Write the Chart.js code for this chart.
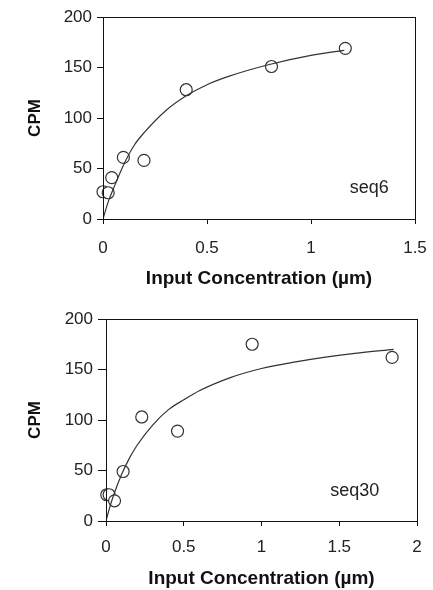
<!DOCTYPE html>
<html>
<head>
<meta charset="utf-8">
<script src="https://cdn.jsdelivr.net/npm/chart.js@4/dist/chart.umd.min.js"></script>
<style>
  body { margin: 0; background: #fff; }
  .panel { position: absolute; left: 0; width: 433px; height: 295px; }
</style>
</head>
<body>
<div class="panel" style="top:0"><canvas id="seq6" width="433" height="295"></canvas></div>
<div class="panel" style="top:295px"><canvas id="seq30" width="433" height="295"></canvas></div>
<script>
const seq6Conc = [0.0, 0.025, 0.042, 0.098, 0.197, 0.4, 0.81, 1.165];
const seq6Cpm = [27, 26, 41, 61, 58, 128, 151, 169];
const seq6FitConc = [0, 0.025, 0.05, 0.1, 0.15, 0.2, 0.3, 0.4, 0.5, 0.6, 0.8, 1.0, 1.16];
const seq6FitCpm = [0, 17, 30, 54, 73, 86, 107, 122, 133, 141, 153, 162, 167];

const seq30Conc = [0.005, 0.02, 0.055, 0.11, 0.23, 0.46, 0.94, 1.84];
const seq30Cpm = [26, 26, 20, 49, 103, 89, 175, 162];
const seq30FitConc = [0, 0.025, 0.05, 0.1, 0.15, 0.2, 0.3, 0.4, 0.5, 0.6, 0.8, 1.0, 1.2, 1.4, 1.6, 1.85];
const seq30FitCpm = [0, 14, 26, 46, 62, 75, 95, 110, 120, 129, 142, 151, 157, 162, 166, 170];

const xTitle = "Input Concentration (\u00b5m)";
const yTitle = "CPM";
const FONT = "'Liberation Sans', Arial, Helvetica, sans-serif";

const boxPlugin = {
  id: "box",
  afterDraw(chart, args, opts) {
    const { ctx, chartArea, scales } = chart;
    ctx.save();
    ctx.strokeStyle = "#111";
    ctx.lineWidth = 1;
    ctx.strokeRect(chartArea.left + 0.5, chartArea.top + 0.5, chartArea.width, chartArea.height);
    ctx.font = "18px " + FONT;
    ctx.fillStyle = "#222";
    ctx.textAlign = "center";
    ctx.textBaseline = "middle";
    ctx.fillText(opts.label, scales.x.getPixelForValue(opts.labelX), scales.y.getPixelForValue(opts.labelY));
    ctx.restore();
  },
};

function toPoints(xs, ys) {
  return xs.map((x, i) => ({ x: x, y: ys[i] }));
}

function makeChart(id, g) {
  return new Chart(document.getElementById(id), {
    type: "scatter",
    data: {
      datasets: [
        {
          type: "line",
          data: toPoints(g.fitX, g.fitY),
          borderColor: "#333",
          borderWidth: 1.2,
          pointRadius: 0,
          fill: false,
          cubicInterpolationMode: "monotone",
        },
        {
          data: toPoints(g.x, g.y),
          pointRadius: 6,
          pointBorderWidth: 1.2,
          pointBorderColor: "#333",
          pointBackgroundColor: "#fff",
          clip: false,
        },
      ],
    },
    options: {
      responsive: false,
      animation: false,
      devicePixelRatio: 1,
      layout: { padding: { left: 0, top: g.top, right: 433 - g.right, bottom: 0 } },
      plugins: {
        legend: { display: false },
        tooltip: { enabled: false },
        box: { label: g.label, labelX: g.labelX, labelY: g.labelY },
      },
      scales: {
        x: {
          type: "linear",
          min: 0,
          max: g.xMax,
          afterFit: (s) => {
            s.height = g.xHeight;
            s.paddingLeft = 0;
            s.paddingRight = 0;
          },
          ticks: {
            stepSize: 0.5,
            color: "#222",
            padding: g.xPad,
            font: { family: FONT, size: 17 },
            callback: (v) => String(v),
          },
          grid: { drawOnChartArea: false, tickLength: 5, color: "#111" },
          border: { color: "#111" },
          title: {
            display: true,
            text: xTitle,
            color: "#111",
            padding: { top: 0, bottom: g.xTitlePad },
            font: { family: FONT, size: 19, weight: "bold" },
          },
        },
        y: {
          min: 0,
          max: 200,
          afterFit: (s) => { s.width = g.left; },
          ticks: { stepSize: 50, color: "#222", padding: 5, font: { family: FONT, size: 17 } },
          grid: { drawOnChartArea: false, tickLength: g.yTick, color: "#111" },
          border: { color: "#111" },
          title: {
            display: true,
            text: yTitle,
            color: "#111",
            padding: { top: 25, bottom: 0 },
            font: { family: FONT, size: 17, weight: "bold" },
          },
        },
      },
    },
    plugins: [boxPlugin],
  });
}

makeChart("seq6", {
  x: seq6Conc, y: seq6Cpm, fitX: seq6FitConc, fitY: seq6FitCpm,
  xMax: 1.5, left: 103, right: 415, top: 17, xHeight: 76,
  xPad: 14, xTitlePad: 5, yTick: 6,
  label: "seq6", labelX: 1.28, labelY: 31,
});

makeChart("seq30", {
  x: seq30Conc, y: seq30Cpm, fitX: seq30FitConc, fitY: seq30FitCpm,
  xMax: 2, left: 106, right: 417, top: 24, xHeight: 69,
  xPad: 11, xTitlePad: 0, yTick: 8,
  label: "seq30", labelX: 1.6, labelY: 30,
});
</script>
</body>
</html>
